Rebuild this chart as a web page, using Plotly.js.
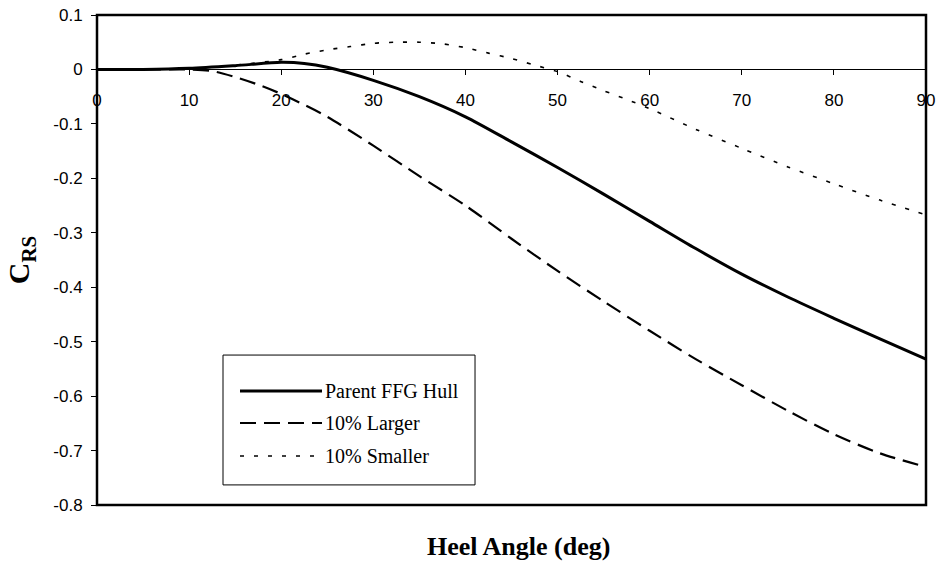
<!DOCTYPE html>
<html>
<head>
<meta charset="utf-8">
<script src="https://cdn.plot.ly/plotly-3.0.1.min.js"></script>
<style>html,body{margin:0;padding:0;background:#fff;}#chart{width:941px;height:565px;}</style>
</head>
<body>
<div id="chart"></div>
<script>
// ---- data ----
const seriesNames = ["Parent FFG Hull", "10% Larger", "10% Smaller"];

const parentX = [0, 5, 10, 15, 20, 22.5, 25, 30, 35, 40, 45, 50, 55, 60, 65, 70, 75, 80, 85, 90];
const parentY = [0, 0, 0.002, 0.007, 0.013, 0.011, 0.004, -0.02, -0.05, -0.087, -0.133, -0.18, -0.229, -0.279, -0.329, -0.376, -0.418, -0.457, -0.495, -0.532];

const largerX = [0, 5, 10, 12.5, 15, 17.5, 20, 22.5, 25, 30, 35, 40, 45, 50, 55, 60, 65, 70, 75, 80, 85, 90];
const largerY = [0, 0, 0, -0.003, -0.014, -0.028, -0.045, -0.065, -0.087, -0.14, -0.196, -0.25, -0.311, -0.37, -0.426, -0.48, -0.532, -0.58, -0.627, -0.67, -0.705, -0.73];

const smallerX = [0, 5, 10, 15, 20, 22.5, 25, 27.5, 30, 32.5, 35, 37.5, 40, 42.5, 45, 47.5, 50, 52.5, 55, 57.5, 60, 65, 70, 75, 80, 85, 90];
const smallerY = [0, 0, 0.002, 0.008, 0.018, 0.028, 0.036, 0.042, 0.048, 0.05, 0.05, 0.047, 0.04, 0.03, 0.02, 0.008, -0.004, -0.022, -0.039, -0.055, -0.072, -0.11, -0.145, -0.179, -0.21, -0.24, -0.267];

const xTickVals = [0, 10, 20, 30, 40, 50, 60, 70, 80, 90];
const xTickText = ["0", "10", "20", "30", "40", "50", "60", "70", "80", "90"];
const yTickVals = [0.1, 0, -0.1, -0.2, -0.3, -0.4, -0.5, -0.6, -0.7, -0.8];
const yTickText = ["0.1", "0", "-0.1", "-0.2", "-0.3", "-0.4", "-0.5", "-0.6", "-0.7", "-0.8"];

const xRange = [0, 90];
const yRange = [-0.8, 0.1];

// ---- styles ----
const lineStyles = [
  {color: "#000", width: 3, dash: "solid"},
  {color: "#000", width: 2.2, dash: "16px,8px"},
  {color: "#000", width: 1.6, dash: "4px,10px"}
];

const traces = [
  {x: parentX, y: parentY, name: seriesNames[0], mode: "lines", line: Object.assign({shape: "spline", smoothing: 0.8}, lineStyles[0])},
  {x: largerX, y: largerY, name: seriesNames[1], mode: "lines", line: Object.assign({shape: "spline", smoothing: 0.8}, lineStyles[1])},
  {x: smallerX, y: smallerY, name: seriesNames[2], mode: "lines", line: Object.assign({shape: "spline", smoothing: 0.8}, lineStyles[2])}
];

const zeroPos = (0 - yRange[0]) / (yRange[1] - yRange[0]);
const serif = "Liberation Serif, Times New Roman, serif";
const tickFont = {family: "Liberation Sans, Arial, sans-serif", size: 17, color: "#000"};

// custom legend (paper coordinates)
const legBox = {x0: 0.152, x1: 0.456, y0: 0.041, y1: 0.306};
const legRows = [0.2327, 0.1673, 0.1];
const legLineX = [0.1725, 0.2714];

const shapes = [
  {type: "rect", xref: "paper", yref: "paper", x0: 0, x1: 1, y0: 0, y1: 1, line: {color: "#000", width: 2.5}, layer: "above"},
  {type: "rect", xref: "paper", yref: "paper", x0: legBox.x0, x1: legBox.x1, y0: legBox.y0, y1: legBox.y1, line: {color: "#000", width: 1}, fillcolor: "#fff", layer: "above"}
];
const annotations = [];
seriesNames.forEach((nm, i) => {
  shapes.push({type: "line", xref: "paper", yref: "paper", x0: legLineX[0], x1: legLineX[1], y0: legRows[i], y1: legRows[i], line: lineStyles[i], layer: "above"});
  annotations.push({xref: "paper", yref: "paper", x: legLineX[1] + 0.001, y: legRows[i], xanchor: "left", yanchor: "middle", showarrow: false, text: nm, font: {family: serif, size: 20, color: "#000"}});
});

const layout = {
  width: 941, height: 565,
  margin: {l: 97, r: 15, t: 15, b: 60},
  paper_bgcolor: "#fff", plot_bgcolor: "#fff",
  showlegend: false,
  xaxis: {
    range: xRange, anchor: "free", position: zeroPos,
    tickvals: xTickVals, ticktext: xTickText, tickfont: tickFont,
    ticks: "outside", ticklen: 5, tickwidth: 1, tickcolor: "#000", ticklabelstandoff: 10,
    showgrid: false, zeroline: false, showline: false
  },
  xaxis2: {
    range: xRange, overlaying: "x", anchor: "free", position: zeroPos,
    tickvals: xTickVals, showticklabels: false,
    ticks: "inside", ticklen: 5, tickwidth: 1, tickcolor: "#000",
    showgrid: false, zeroline: false, showline: false
  },
  yaxis: {
    range: yRange, tickvals: yTickVals, ticktext: yTickText, tickfont: tickFont,
    ticks: "outside", ticklen: 5, tickwidth: 1, tickcolor: "#000", ticklabelstandoff: 5,
    showgrid: false, zeroline: true, zerolinecolor: "#000", zerolinewidth: 1, showline: false,
    title: {text: "<b>C<sub>RS</sub></b>", font: {family: serif, size: 30, color: "#000"}, standoff: 14}
  },
  yaxis2: {
    range: yRange, overlaying: "y", anchor: "x",
    tickvals: yTickVals, showticklabels: false,
    ticks: "inside", ticklen: 4, tickwidth: 1, tickcolor: "#000",
    showgrid: false, zeroline: false, showline: false
  },
  shapes: shapes,
  annotations: annotations.concat([
    {xref: "paper", yref: "paper", x: 0.508, y: -0.085, xanchor: "center", yanchor: "middle", showarrow: false,
     text: "<b>Heel Angle (deg)</b>", font: {family: serif, size: 26, color: "#000"}}
  ])
};

Plotly.newPlot("chart", traces, layout, {staticPlot: true, displayModeBar: false});
</script>
</body>
</html>
